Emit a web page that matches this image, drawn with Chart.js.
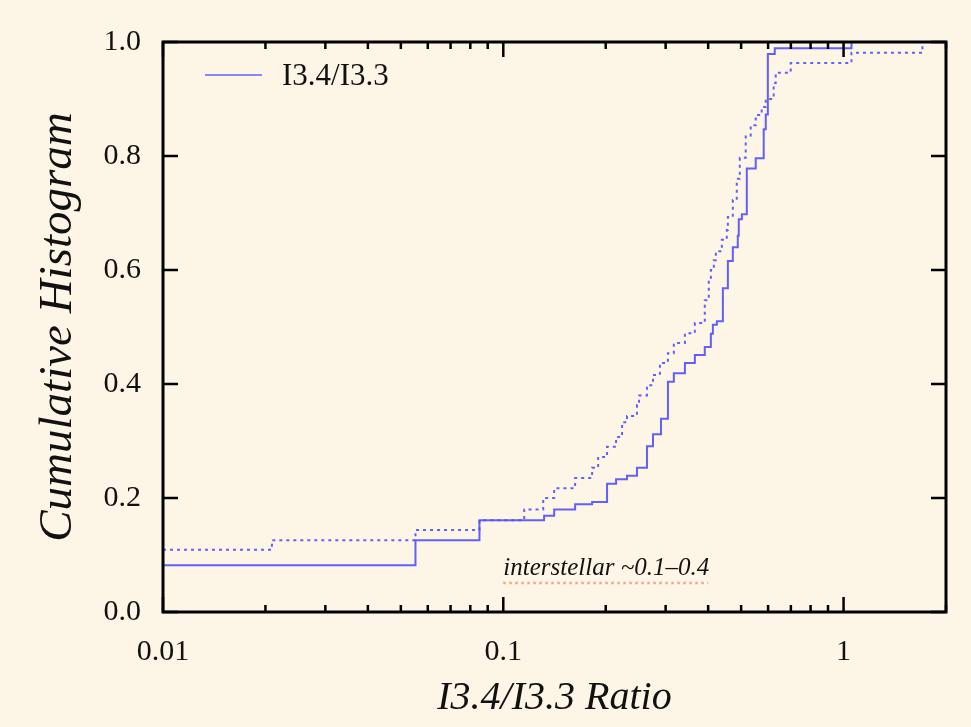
<!DOCTYPE html>
<html>
<head>
<meta charset="utf-8">
<script src="https://cdn.jsdelivr.net/npm/chart.js@4/dist/chart.umd.min.js"></script>
<style>
  html, body { margin: 0; padding: 0; background: #fdf5e6; }
  #wrap { width: 971px; height: 727px; }
</style>
</head>
<body>
<div id="wrap"><canvas id="cdfChart"></canvas></div>
<script>
// Werte (Sprungstellen der kumulativen Histogramme)
var ratioSolid = [0.01, 0.0552, 0.0851, 0.1318, 0.1411, 0.1626, 0.1824, 0.2018, 0.2145, 0.2310,
  0.2471, 0.2644, 0.2754, 0.2907, 0.3047, 0.3171, 0.3418, 0.3656, 0.3910, 0.4074, 0.4130,
  0.4244, 0.4419, 0.4571, 0.4727, 0.4888, 0.4921, 0.5024, 0.5196, 0.5519, 0.5825, 0.5907,
  0.5991, 0.6278, 1.055, 2.0];
var cumSolid = [0.082, 0.126, 0.161, 0.169, 0.180, 0.189, 0.193, 0.225, 0.233, 0.239,
  0.253, 0.291, 0.312, 0.339, 0.404, 0.419, 0.437, 0.451, 0.465, 0.488, 0.504,
  0.510, 0.568, 0.616, 0.640, 0.660, 0.689, 0.698, 0.778, 0.796, 0.847, 0.873,
  0.979, 0.989, 1.0, 1.0];

var ratioDotted = [0.01, 0.0209, 0.0552, 0.0851, 0.1152, 0.1310, 0.1411, 0.1626, 0.1824, 0.1900,
  0.2018, 0.2145, 0.2234, 0.2310, 0.2471, 0.2505, 0.2644, 0.2754, 0.2886, 0.3047, 0.3171,
  0.3418, 0.3656, 0.3910, 0.4018, 0.4074, 0.4157, 0.4214, 0.4389, 0.4538, 0.4571, 0.4727,
  0.4855, 0.4955, 0.5158, 0.5335, 0.5519, 0.5747, 0.5907, 0.6232, 0.6318, 0.6993, 1.055,
  1.705, 2.0];
var cumDotted = [0.109, 0.126, 0.144, 0.161, 0.180, 0.200, 0.217, 0.235, 0.253, 0.272,
  0.290, 0.307, 0.333, 0.344, 0.363, 0.380, 0.398, 0.416, 0.437, 0.454, 0.472,
  0.489, 0.507, 0.547, 0.582, 0.600, 0.617, 0.633, 0.653, 0.670, 0.693, 0.723,
  0.760, 0.797, 0.834, 0.854, 0.872, 0.886, 0.900, 0.928, 0.946, 0.963, 0.981,
  1.0, 1.0];

var xTickValues = [0.01, 0.02, 0.03, 0.04, 0.05, 0.06, 0.07, 0.08, 0.09,
  0.1, 0.2, 0.3, 0.4, 0.5, 0.6, 0.7, 0.8, 0.9, 1, 2];
var xLabelValues = [0.01, 0.1, 1];
var yTickValues = [0, 0.2, 0.4, 0.6, 0.8, 1.0];

var legendLabel = 'I3.4/I3.3';
var noteText = 'interstellar ~0.1\u20130.4';
var noteRange = [0.1, 0.4];
var noteLevel = 0.051;

var bgColor = '#fdf5e6';
var lineColor = 'rgba(80, 80, 255, 0.9)';

function toPoints(xs, ys) {
  var pts = [];
  for (var i = 0; i < xs.length; i++) {
    pts.push({ x: xs[i], y: ys[i] });
  }
  return pts;
}

function strokeLine(ctx, x1, y1, x2, y2) {
  ctx.beginPath();
  ctx.moveTo(x1, y1);
  ctx.lineTo(x2, y2);
  ctx.stroke();
}

// Hintergrund, Rahmen mit Ticks nach innen, Legende und Notiz
var framePlugin = {
  id: 'framePlugin',
  beforeDraw: function (chart) {
    var ctx = chart.ctx;
    ctx.save();
    ctx.fillStyle = bgColor;
    ctx.fillRect(0, 0, chart.width, chart.height);
    ctx.restore();
  },
  afterDraw: function (chart) {
    var ctx = chart.ctx;
    var a = chart.chartArea;
    var xs = chart.scales.x;
    var ys = chart.scales.y;
    ctx.save();
    ctx.strokeStyle = '#000';
    ctx.lineWidth = 2.5;

    xTickValues.forEach(function (v) {
      var px = xs.getPixelForValue(v);
      var len = xLabelValues.indexOf(v) >= 0 ? 15 : 7;
      strokeLine(ctx, px, a.bottom, px, a.bottom - len);
      strokeLine(ctx, px, a.top, px, a.top + len);
    });
    yTickValues.forEach(function (v) {
      var py = ys.getPixelForValue(v);
      strokeLine(ctx, a.left, py, a.left + 15, py);
      strokeLine(ctx, a.right, py, a.right - 15, py);
    });

    ctx.lineWidth = 3;
    ctx.strokeRect(a.left, a.top, a.right - a.left, a.bottom - a.top);

    // Legende (nur die durchgezogene Linie)
    ctx.strokeStyle = lineColor;
    ctx.lineWidth = 1.6;
    strokeLine(ctx, a.left + 42, a.top + 33, a.left + 99, a.top + 33);
    ctx.fillStyle = '#111';
    ctx.font = '31px "Liberation Serif", serif';
    ctx.textBaseline = 'middle';
    ctx.textAlign = 'left';
    ctx.fillText(chart.data.datasets[0].label, a.left + 119, a.top + 35);

    // Notiz zum interstellaren Bereich
    var x1 = xs.getPixelForValue(noteRange[0]);
    var x2 = xs.getPixelForValue(noteRange[1]);
    var yLine = ys.getPixelForValue(noteLevel);
    ctx.strokeStyle = '#f4a582';
    ctx.lineWidth = 2.5;
    ctx.setLineDash([2.5, 3.5]);
    strokeLine(ctx, x1, yLine, x2, yLine);
    ctx.setLineDash([]);
    ctx.font = 'italic 25px "Liberation Serif", serif';
    ctx.textBaseline = 'alphabetic';
    ctx.fillStyle = '#111';
    ctx.fillText(noteText, x1, yLine - 8);
    ctx.restore();
  }
};

new Chart(document.getElementById('cdfChart').getContext('2d'), {
  type: 'line',
  data: {
    datasets: [{
      label: legendLabel,
      data: toPoints(ratioSolid, cumSolid),
      borderColor: lineColor,
      borderWidth: 2,
      pointRadius: 0,
      stepped: 'before',
      fill: false
    }, {
      label: legendLabel + ' (dotted)',
      data: toPoints(ratioDotted, cumDotted),
      borderColor: lineColor,
      borderWidth: 2,
      borderDash: [3, 4],
      pointRadius: 0,
      stepped: 'before',
      fill: false
    }]
  },
  options: {
    responsive: true,
    maintainAspectRatio: false,
    animation: false,
    layout: { padding: { top: 42, right: 25, left: 0, bottom: 0 } },
    plugins: {
      legend: { display: false },
      tooltip: { enabled: false }
    },
    scales: {
      x: {
        type: 'logarithmic',
        min: 0.01,
        max: 2,
        afterFit: function (scale) { scale.height = 115; },
        afterBuildTicks: function (scale) {
          scale.ticks = xTickValues.map(function (v) { return { value: v }; });
        },
        grid: { display: false, drawTicks: false },
        border: { display: false },
        ticks: {
          autoSkip: false,
          maxRotation: 0,
          padding: 22,
          color: '#111',
          font: { family: '"Liberation Serif", serif', size: 30 },
          callback: function (value) {
            return xLabelValues.indexOf(value) >= 0 ? String(value) : '';
          }
        },
        title: {
          display: true,
          text: 'I3.4/I3.3 Ratio',
          color: '#111',
          font: { family: '"Liberation Serif", serif', size: 40, style: 'italic' },
          padding: { top: 0, bottom: 5 }
        }
      },
      y: {
        min: 0,
        max: 1,
        afterFit: function (scale) { scale.width = 163; },
        afterBuildTicks: function (scale) {
          scale.ticks = yTickValues.map(function (v) { return { value: v }; });
        },
        grid: { display: false, drawTicks: false },
        border: { display: false },
        ticks: {
          padding: 22,
          color: '#111',
          font: { family: '"Liberation Serif", serif', size: 30 },
          callback: function (value) { return value.toFixed(1); }
        },
        title: {
          display: true,
          text: 'Cumulative Histogram',
          color: '#111',
          font: { family: '"Liberation Serif", serif', size: 47, style: 'italic' },
          padding: { top: 30, bottom: 0 }
        }
      }
    }
  },
  plugins: [framePlugin]
});
</script>
</body>
</html>
